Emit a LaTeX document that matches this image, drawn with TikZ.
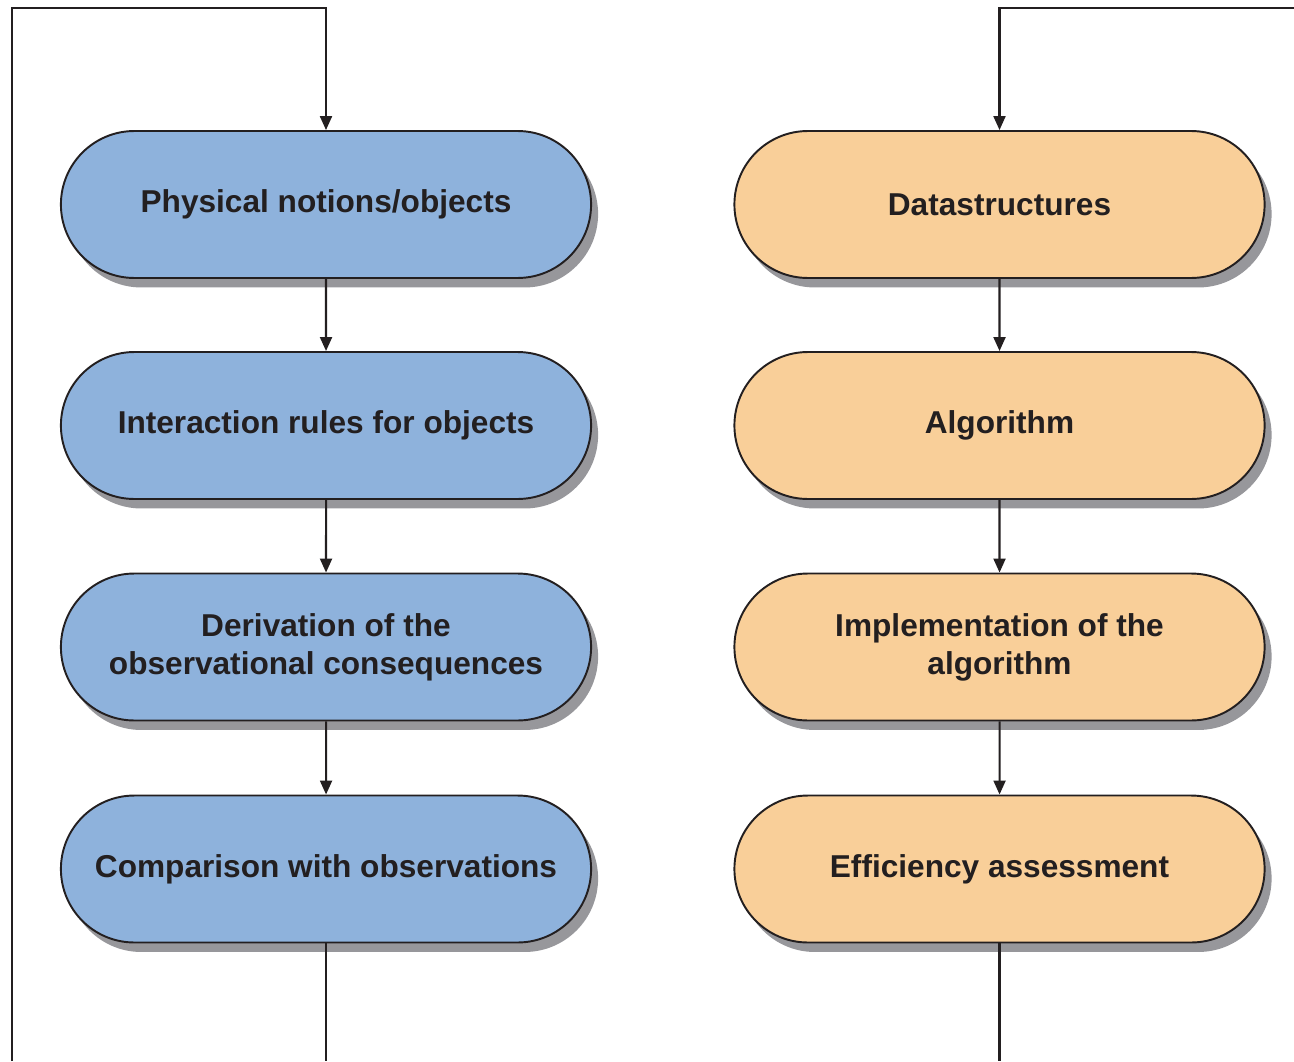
\documentclass[tikz,border=0pt]{standalone}
\usepackage{fontspec}
\setmainfont{Liberation Sans}
\usetikzlibrary{arrows.meta,shapes.misc,shadows}
\definecolor{physblue}{HTML}{8EB2DC}
\definecolor{comporange}{HTML}{F9CF99}
\definecolor{ink}{HTML}{231F20}
\definecolor{shade}{HTML}{97979B}
\tikzset{
  stage/.style={rounded rectangle, draw=ink, line width=1.1pt,
    minimum width=10.84cm, minimum height=2.94cm, align=center,
    font=\fontsize{18}{21.6}\selectfont\bfseries, text=ink,
    drop shadow={shadow xshift=0.14cm, shadow yshift=-0.19cm, fill=shade, opacity=1}},
  phys/.style={stage, fill=physblue},
  comp/.style={stage, fill=comporange},
  link/.style={draw=ink, line width=1.2pt},
  flow/.style={link, -{Triangle[length=0.28cm,width=0.24cm]}},
}

\begin{document}
\begin{tikzpicture}[x=0.02cm, y=-0.02cm]
\useasboundingbox (0,0) rectangle (1294,1061);
% physics side
\node[phys] (p1) at (326,204.5) {Physical notions/objects};
\node[phys] (p2) at (326,425.5) {Interaction rules for objects};
\node[phys] (p3) at (326,647) {Derivation of the\\observational consequences};
\node[phys] (p4) at (326,869) {Comparison with observations};
% computing side
\node[comp] (c1) at (999.5,204.5) {Datastructures};
\node[comp] (c2) at (999.5,425.5) {Algorithm};
\node[comp] (c3) at (999.5,647) {Implementation of the\\algorithm};
\node[comp] (c4) at (999.5,869) {Efficiency assessment};
\coordinate (lb) at (12,1061);
\coordinate (lt) at (12,8);
\coordinate (rt) at (1294,8);
\draw[flow] (p1) -- (p2);
\draw[flow] (p2) -- (p3);
\draw[flow] (p3) -- (p4);
\draw[flow] (c1) -- (c2);
\draw[flow] (c2) -- (c3);
\draw[flow] (c3) -- (c4);
% loops back to the top
\draw[flow] (lb) -- (lt) -| (p1.north);
\draw[flow] (rt) -| (c1.north);
\draw[link] (p4.south) -- (p4.south |- lb);
\draw[link] (c4.south) -- (c4.south |- lb);
\end{tikzpicture}
\end{document}
